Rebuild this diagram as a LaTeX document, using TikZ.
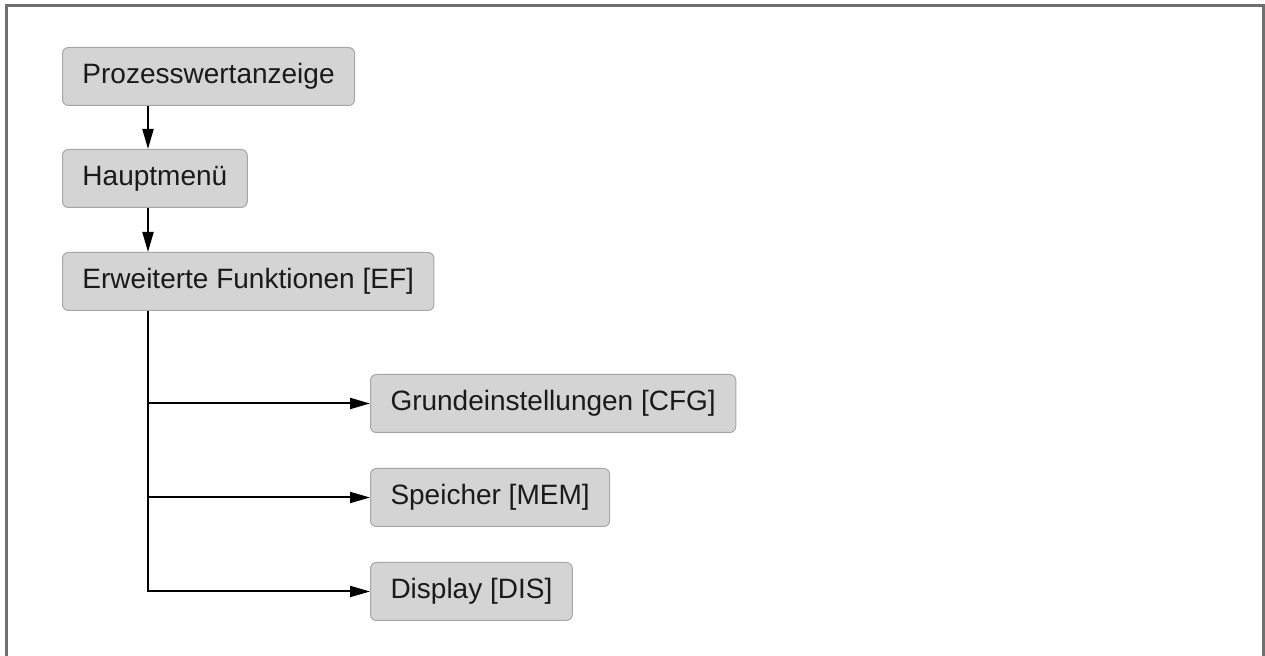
\documentclass[tikz,border=0pt]{standalone}
\usepackage{fontspec}
\setmainfont{Liberation Sans}
\usetikzlibrary{positioning,arrows.meta}
\definecolor{boxfill}{HTML}{D4D4D4}
\definecolor{boxline}{HTML}{A6A6A6}
\definecolor{frameline}{HTML}{6F6F6F}
\definecolor{txt}{HTML}{1A1A1A}
\begin{document}
\begin{tikzpicture}[x=0.5pt,y=-0.5pt,
  menu/.style={draw=boxline,fill=boxfill,line width=0.5pt,rounded corners=3pt,
    minimum height=29pt,inner xsep=10pt,text=txt,
    font=\fontsize{14pt}{16pt}\selectfont},
  arr/.style={line width=1pt,-{Triangle[length=10pt,width=5.5pt]}}]
%%
\useasboundingbox (0,0) rectangle (1265,656);
\draw[frameline,line width=1.5pt] (6,656) -- (6,6) -- (1263,6) -- (1263,656);
%%
\node[menu,anchor=north west] (proz) at (62,47) {Prozesswertanzeige};
\node[menu,below=21.5pt of proz.south west,anchor=north west] (haupt) {Hauptmenü};
\node[menu,below=22pt of haupt.south west,anchor=north west] (ef) {Erweiterte Funktionen [EF]};
%
\node[menu,below right=31.5pt and 154pt of ef.south west,anchor=north west] (grund) {Grundeinstellungen [CFG]};
\node[menu,below=17.5pt of grund.south west,anchor=north west] (mem) {Speicher [MEM]};
\node[menu,below=17.5pt of mem.south west,anchor=north west] (disp) {Display [DIS]};
%%
\coordinate (trunk) at (148,0);
\draw[arr] (proz.south -| trunk) -- (haupt.north -| trunk);
\draw[arr] (haupt.south -| trunk) -- (ef.north -| trunk);
\draw[arr] (ef.south -| trunk) |- (disp.west);
\foreach \n in {grund,mem}
  \draw[arr] (\n.west -| trunk) -- (\n.west);
\end{tikzpicture}
\end{document}
